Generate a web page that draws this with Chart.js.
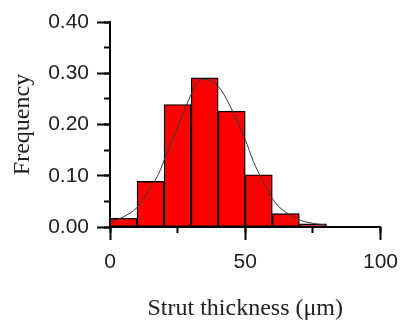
<!DOCTYPE html>
<html>
<head>
<meta charset="utf-8">
<script src="https://cdn.jsdelivr.net/npm/chart.js@4.4.0/dist/chart.umd.min.js"></script>
<style>
  html, body { margin: 0; padding: 0; background: #fff; }
</style>
</head>
<body>
<canvas id="myChart" width="408" height="329"></canvas>
<script>
// histogram bins (um) and frequencies
var binCenters = [5, 15, 25, 35, 45, 55, 65, 75];
var frequency = [0.017, 0.089, 0.239, 0.291, 0.226, 0.102, 0.026, 0.006];

// gaussian fit line
var fitX = [0, 5, 10, 15, 18, 20.5, 25, 29, 32, 35, 38, 41, 45.5, 50, 53, 57, 61, 65.5, 70.5, 76.5, 80];
var fitY = [0.009, 0.02, 0.038, 0.077, 0.104, 0.137, 0.195, 0.247, 0.279, 0.288, 0.283, 0.268, 0.224, 0.171, 0.128, 0.085, 0.048, 0.027, 0.013, 0.006, 0.004];

var tickFont = { family: 'Liberation Sans, Arial', size: 21 };
var titleFont = { family: 'Liberation Serif, Times New Roman', size: 24 };

// unlabelled axes that only draw tick marks on the x / y axis lines
var tickAxis = function (axis, pos, max, step, len) {
    return {
        type: 'linear',
        axis: axis,
        position: pos,
        offset: false,
        min: 0,
        max: max,
        border: { display: false },
        grid: { offset: false, drawOnChartArea: false, tickLength: len, tickWidth: 2, tickColor: '#000' },
        ticks: { stepSize: step, display: false }
    };
};

var canvas = document.getElementById('myChart');
new Chart(canvas, {
    type: 'bar',
    data: {
        datasets: [{
            type: 'line',
            data: fitX.map(function (x, i) { return { x: x, y: fitY[i] }; }),
            borderColor: '#3a3a3a',
            borderWidth: 1,
            pointRadius: 0,
            cubicInterpolationMode: 'monotone',
            fill: false,
            order: 0
        }, {
            type: 'bar',
            data: binCenters.map(function (x, i) { return { x: x, y: frequency[i] }; }),
            backgroundColor: '#ff0000',
            borderColor: '#000',
            borderWidth: 1.4,
            borderSkipped: false,
            barPercentage: 1,
            categoryPercentage: 1,
            order: 1
        }]
    },
    options: {
        responsive: false,
        animation: false,
        layout: { padding: { top: 22, right: 24, left: 0, bottom: 0 } },
        plugins: {
            legend: { display: false },
            tooltip: { enabled: false }
        },
        scales: {
            x: {
                type: 'linear',
                offset: false,
                min: 0,
                max: 100,
                afterFit: function (scale) { scale.height = 102; },
                border: { display: true, color: '#000', width: 2 },
                grid: { offset: false, drawOnChartArea: false, tickLength: 13, tickColor: 'rgba(0,0,0,0)' },
                ticks: {
                    stepSize: 50,
                    autoSkip: false,
                    color: '#222',
                    padding: 10,
                    maxRotation: 0,
                    font: tickFont
                },
                title: {
                    display: true,
                    text: 'Strut thickness (\u03bcm)',
                    color: '#222',
                    font: titleFont,
                    padding: { top: 0, bottom: 6 }
                }
            },
            y: {
                min: 0,
                max: 0.4,
                afterFit: function (scale) { scale.width = 110; },
                border: { display: true, color: '#000', width: 2 },
                grid: { drawOnChartArea: false, tickLength: 13, tickColor: 'rgba(0,0,0,0)' },
                ticks: {
                    stepSize: 0.1,
                    autoSkip: false,
                    color: '#222',
                    padding: 8,
                    font: tickFont,
                    callback: function (v) { return v.toFixed(2); }
                },
                title: {
                    display: true,
                    text: 'Frequency',
                    color: '#222',
                    font: titleFont,
                    padding: { top: 8, bottom: 0 }
                }
            },
            xMajor: tickAxis('x', { y: 0 }, 100, 50, 13),
            xMinor: tickAxis('x', { y: 0 }, 100, 25, 6),
            yMajor: tickAxis('y', { x: 0 }, 0.4, 0.1, 13),
            yMinor: tickAxis('y', { x: 0 }, 0.4, 0.05, 6)
        }
    }
});
</script>
</body>
</html>
